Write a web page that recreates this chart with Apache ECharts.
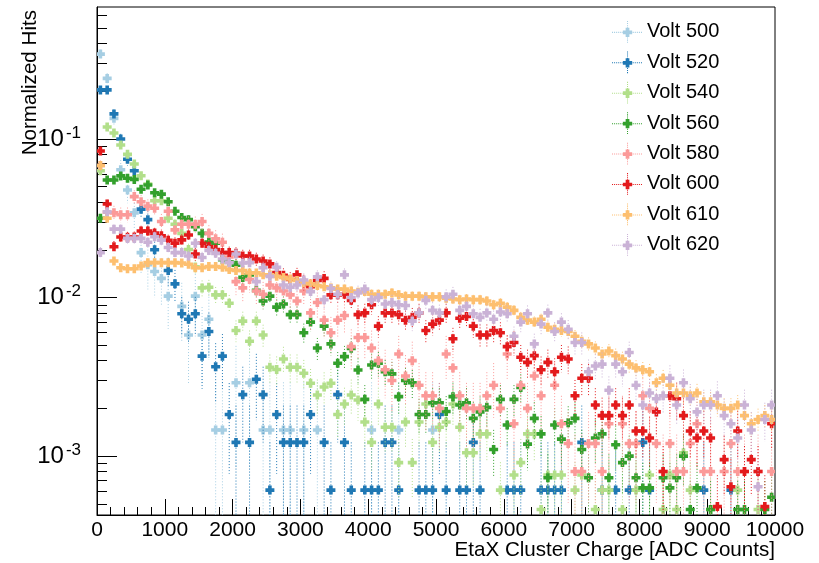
<!DOCTYPE html>
<html>
<head>
<meta charset="utf-8">
<script src="https://cdn.jsdelivr.net/npm/echarts@6/dist/echarts.min.js"></script>
<style>
    html, body { margin: 0; padding: 0; background: #fff; }
    #chart { width: 819px; height: 563px; }
</style>
</head>
<body>
<div id="chart"></div>
<script>
// 100 bins of 100 ADC counts, 0 - 10000
var binWidth = 100;
var nBins = 100;
var xTicks = [0, 1000, 2000, 3000, 4000, 5000, 6000, 7000, 8000, 9000, 10000];
var yMajor = [0.001, 0.01, 0.1];
var yMinor = [0.0005, 0.0006, 0.0007, 0.0008, 0.0009,
    0.002, 0.003, 0.004, 0.005, 0.006, 0.007, 0.008, 0.009,
    0.02, 0.03, 0.04, 0.05, 0.06, 0.07, 0.08, 0.09,
    0.2, 0.3, 0.4, 0.5, 0.6];

var names = ['Volt 500', 'Volt 520', 'Volt 540', 'Volt 560', 'Volt 580', 'Volt 600', 'Volt 610', 'Volt 620'];
var colors = ['#a6cee3', '#1f78b4', '#b2df8a', '#33a02c', '#fb9a99', '#e31a1c', '#fdbf6f', '#cab2d6'];
// weight of one entry per series (error = sqrt(value * unit))
var units = [1.46e-3, 6.1e-4, 1.52e-4, 1.2e-4, 4e-4, 1.6e-4, 5e-5, 1.3e-4];

var volt500 = [
    0.343, 0.241, 0.135, 0.064, 0.0477, 0.0342, 0.0192, 0.0161, 0.0146, 0.0132,
    0.0102, null, 0.0088, 0.0058, 0.0102, 0.0058, 0.0073, 0.00146, 0.00146, null,
    0.0029, null, 0.0029, null, 0.00146, 0.00146, null, 0.00146, 0.00146, null,
    0.00146, null, 0.00146, null, null, null, null, null, null, null,
    0.00146, null, null, null, 0.00146, null, null, null, null, 0.00146,
    null, null, null, null, null, null, null, null, null, null,
    null, null, null, null, null, null, null, null, null, null,
    null, null, null, null, null, null, null, null, null, null,
    null, null, null, null, null, null, null, null, null, null,
    null, null, null, null, null, null, null, null, null, null
];
var volt520 = [
    0.204, 0.204, 0.144, 0.0999, 0.0745, 0.063, 0.0361, 0.031, 0.02, null,
    0.0148, 0.0122, 0.0079, 0.0073, 0.0079, 0.00427, 0.0061, 0.00366, 0.00427, 0.00183,
    0.00122, 0.00244, 0.00122, 0.00305, 0.00244, 0.00061, 0.00183, 0.00122, 0.00122, 0.00122,
    0.00122, 0.00183, null, 0.00122, 0.00061, 0.00244, 0.00122, 0.00061, null, 0.00061,
    0.00061, 0.00061, 0.00122, 0.00122, 0.00061, null, null, 0.00061, 0.00061, 0.00061,
    0.00183, 0.00061, null, 0.00061, 0.00061, 0.00122, 0.00061, null, null, null,
    0.00061, 0.00061, 0.00061, null, null, 0.00061, 0.00061, 0.00061, 0.00061, null,
    null, 0.00122, null, null, 0.00061, null, 0.00061, null, 0.00061, null,
    0.00122, 0.00061, null, null, null, null, null, null, null, 0.00061,
    null, null, null, 0.00061, null, null, null, null, null, null
];
var volt540 = [
    0.063, 0.119, 0.109, 0.0916, 0.080, 0.0695, 0.0586, 0.052, 0.0408, 0.0408,
    0.0316, 0.029, 0.0254, 0.0201, 0.0156, 0.0115, 0.0116, 0.0104, 0.0104, 0.0092,
    0.0062, 0.0071, 0.0053, 0.0071, 0.0058, 0.00363, 0.00352, 0.0041, 0.00363, 0.00363,
    0.00333, 0.00288, 0.00243, 0.00273, 0.00288, 0.00183, 0.00213, 0.00243, 0.00226, 0.00164,
    0.00122, 0.00213, 0.00152, 0.00152, 0.00091, 0.00164, 0.00091, 0.00164, 0.00213, 0.00122,
    0.00152, 0.00164, 0.00213, 0.00152, 0.00105, 0.00105, 0.00138, 0.00138, null, 0.00061,
    null, 0.00076, 0.00091, 0.00138, 0.00138, 0.00046, 0.00076, 0.00076, 0.00076, null,
    0.00061, 0.00076, null, 0.00046, 0.00061, 0.00061, null, 0.00046, null, 0.00061,
    null, 0.00076, null, 0.00046, 0.00076, 0.00046, 0.00105, 0.00061, null, null,
    0.00046, null, null, null, 0.00061, null, null, 0.00046, null, null
];
var volt560 = [
    0.0316, 0.0551, 0.0551, 0.0585, 0.0565, 0.0556, 0.0482, 0.0513, 0.0458, 0.0449,
    0.0402, 0.035, 0.032, 0.031, 0.028, 0.0254, 0.0224, 0.022, 0.0173, 0.0168,
    0.016, 0.0134, 0.0139, 0.0111, 0.0095, 0.0102, 0.0087, 0.0091, 0.0078, 0.0078,
    0.006, 0.007, 0.0048, 0.0066, 0.0051, 0.00385, 0.00424, 0.00478, 0.00349, 0.00228,
    0.00375, 0.00385, 0.0034, 0.0033, 0.00237, 0.003, 0.0029, 0.00183, 0.00183, 0.00217,
    0.00217, 0.00191, 0.00237, 0.0021, 0.00217, 0.00173, 0.0019, 0.00203, 0.0011, 0.00228,
    0.00157, 0.00228, 0.00271, 0.00119, 0.00173, 0.00138, 0.00073, 0.00157, 0.00128, 0.00162,
    0.00173, 0.0011, 0.00073, 0.0013, 0.00138, 0.00073, 0.00118, 0.00091, 0.001, 0.00073,
    0.00063, 0.00063, null, 0.00073, 0.00063, 0.00073, 0.001, 0.00046, 0.00063, null,
    0.00046, null, null, null, 0.00046, 0.00046, null, null, 0.00046, 0.00055
];
var volt580 = [
    0.068, 0.0345, 0.0342, 0.0333, 0.0333, 0.0433, 0.0402, 0.0377, 0.0366, 0.0302,
    0.035, 0.0267, 0.029, 0.029, 0.029, 0.0302, 0.0254, 0.0235, 0.0223, 0.018,
    0.0126, 0.0115, 0.013, 0.011, 0.0105, 0.012, 0.0115, 0.011, 0.0104, 0.0095,
    0.011, 0.008, 0.0093, 0.0072, 0.006, 0.0072, 0.0077, 0.0049, 0.0056, 0.0056,
    0.0048, 0.004, 0.0035, 0.003, 0.0044, 0.0032, 0.004, 0.0028, 0.0024, 0.0024,
    0.002, 0.0044, 0.0036, 0.0024, 0.002, 0.002, 0.002, 0.0024, 0.0028, 0.002,
    0.0044, 0.0016, 0.0028, 0.002, 0.0032, 0.0024, null, 0.0028, 0.0016, 0.0012,
    0.0008, 0.0008, 0.0012, 0.0012, 0.0008, 0.0016, null, 0.0016, 0.0012, 0.0012,
    0.0024, 0.002, 0.0012, 0.0008, 0.0012, 0.0008, 0.0008, 0.0012, 0.0016, 0.0008,
    0.0008, null, 0.0008, 0.0012, 0.0008, 0.0008, null, 0.0008, null, 0.0008
];
var volt600 = [
    0.084, 0.0389, 0.0209, 0.0241, 0.024, 0.0241, 0.0263, 0.0263, 0.0255, 0.0245,
    0.023, 0.022, 0.0231, 0.0248, 0.0188, 0.022, 0.021, 0.0201, 0.0192, 0.0192,
    0.019, 0.0183, 0.0183, 0.0175, 0.017, 0.0163, 0.0144, 0.0138, 0.013, 0.0139,
    0.0125, 0.0117, 0.0128, 0.0132, 0.0104, 0.0104, 0.0105, 0.0096, 0.0078, 0.008,
    0.009, 0.0066, 0.008, 0.008, 0.0078, 0.0072, 0.0075, 0.008, 0.0062, 0.0068,
    0.0072, 0.008, 0.0055, 0.0074, 0.0076, 0.0066, 0.0058, 0.0058, 0.0062, 0.006,
    0.0049, 0.0052, 0.0042, 0.0039, 0.0043, 0.0035, 0.0039, 0.0034, 0.0042, 0.0041,
    0.0024, 0.0031, 0.0031, 0.0021, 0.0018, 0.0018, 0.0021, 0.0018, 0.0021, 0.00144,
    0.00144, 0.0013, 0.0019, 0.0008, 0.0024, 0.0023, 0.0018, 0.00144, 0.0013, 0.00144,
    0.0013, 0.00048, 0.00095, 0.00064, 0.00144, 0.0008, 0.00095, 0.0008, 0.00048, 0.0016
];
var volt610 = [
    0.068, 0.0316, 0.017, 0.0154, 0.0152, 0.0152, 0.0158, 0.0166, 0.0166, 0.0166,
    0.0166, 0.0166, 0.0165, 0.0162, 0.0154, 0.0154, 0.0157, 0.0157, 0.0155, 0.015,
    0.0148, 0.0148, 0.0143, 0.0143, 0.0139, 0.0139, 0.0136, 0.0134, 0.0131, 0.0128,
    0.0124, 0.0122, 0.0119, 0.0117, 0.0115, 0.0113, 0.0113, 0.011, 0.0108, 0.0109,
    0.0105, 0.0105, 0.0105, 0.0107, 0.0104, 0.0102, 0.0102, 0.0102, 0.0101, 0.0101,
    0.0101, 0.0099, 0.0098, 0.0097, 0.0098, 0.0097, 0.0097, 0.0095, 0.009, 0.0092,
    0.0087, 0.0083, 0.0075, 0.0072, 0.007, 0.0073, 0.0065, 0.0063, 0.0062, 0.0061,
    0.0057, 0.0053, 0.0051, 0.0048, 0.0044, 0.0046, 0.0043, 0.0041, 0.0038, 0.0036,
    0.0035, 0.0034, 0.0029, 0.0031, 0.0028, 0.0025, 0.0025, 0.0024, 0.0025, 0.0022,
    0.0022, 0.0021, 0.002, 0.002, 0.0021, 0.0018, 0.0016, 0.0017, 0.0018, 0.0017
];
var volt620 = [
    0.0192, 0.0347, 0.027, 0.027, 0.0236, 0.0236, 0.0236, 0.0223, 0.0242, 0.023,
    0.0207, 0.0192, 0.0192, 0.0183, 0.022, 0.0179, 0.0198, 0.019, 0.0175, 0.0166,
    0.0188, 0.0165, 0.0166, 0.0126, 0.0154, 0.0136, 0.0155, 0.012, 0.0116, 0.012,
    0.0129, 0.0109, 0.0135, 0.0097, 0.0114, 0.0105, 0.0139, 0.01, 0.0107, 0.0113,
    0.0097, 0.01, 0.0091, 0.0093, 0.009, 0.0089, 0.0071, 0.008, 0.0096, 0.0083,
    0.008, 0.0101, 0.0105, 0.0083, 0.0088, 0.0079, 0.0075, 0.008, 0.0073, 0.0081,
    0.0079, 0.0057, 0.007, 0.0079, 0.0051, 0.0068, 0.008, 0.0061, 0.007, 0.0063,
    0.0052, 0.0052, 0.0034, 0.0037, 0.0038, 0.0026, 0.0038, 0.0034, 0.0045, 0.0028,
    0.0021, 0.0025, 0.0023, 0.0024, 0.0031, 0.0021, 0.0029, 0.0023, 0.0019, 0.0021,
    0.0021, 0.0024, 0.0018, 0.0016, 0.0013, 0.0021, 0.00146, 0.00064, 0.0017, 0.0021
];
var allValues = [volt500, volt520, volt540, volt560, volt580, volt600, volt610, volt620];

var Y_MIN = 4.25e-4;
var Y_MAX = 0.68;
var FONT = '"Liberation Sans", Arial, Helvetica, sans-serif';

// marker: ROOT full cross (style 34)
function crossPoints(cx, cy, s, w) {
    return [[cx - w, cy - s], [cx + w, cy - s], [cx + w, cy - w], [cx + s, cy - w], [cx + s, cy + w],
        [cx + w, cy + w], [cx + w, cy + s], [cx - w, cy + s], [cx - w, cy + w], [cx - s, cy + w],
        [cx - s, cy - w], [cx - w, cy - w]];
}

function makeRender(color, unit) {
    return function (params, api) {
        var x = api.value(0), v = api.value(1);
        var err = Math.sqrt(v * unit);
        var lo = Math.max(v - err, Y_MIN), hi = Math.min(v + err, Y_MAX);
        var c = api.coord([x, v]);
        var pLo = api.coord([x, lo]), pHi = api.coord([x, hi]);
        var xl = api.coord([x - binWidth / 2, v])[0];
        var xr = api.coord([x + binWidth / 2, v])[0];
        var dot = { stroke: color, lineWidth: 1, lineDash: [1, 2] };
        return {
            type: 'group',
            children: [
                { type: 'line', shape: { x1: c[0], y1: pHi[1], x2: c[0], y2: pLo[1] }, style: dot },
                { type: 'line', shape: { x1: xl, y1: c[1], x2: xr, y2: c[1] }, style: dot },
                { type: 'polygon', shape: { points: crossPoints(c[0], c[1], 4.5, 1.8) }, style: { fill: color } }
            ]
        };
    };
}

// legend icon: dotted cross lines with the marker in the middle
var iconPath = 'path://';
for (var ix = 0; ix <= 28; ix += 2) iconPath += 'M' + ix + ' 10.5h1v1h-1Z';
for (var iy = 0; iy <= 20; iy += 2) iconPath += 'M14.5 ' + iy + 'h1v1h-1Z';
iconPath += 'M13.2 6.5h3.6v2.7h2.7v3.6h-2.7v2.7h-3.6v-2.7h-2.7v-3.6h2.7Z';

var series = [];
for (var k = 0; k < names.length; k++) {
    var pts = [];
    for (var i = 0; i < nBins; i++) {
        if (allValues[k][i] != null) pts.push([i * binWidth + binWidth / 2, allValues[k][i]]);
    }
    series.push({
        name: names[k],
        type: 'custom',
        clip: true,
        itemStyle: { color: colors[k] },
        encode: { x: 0, y: 1 },
        renderItem: makeRender(colors[k], units[k]),
        data: pts
    });
}

var chart = echarts.init(document.getElementById('chart'), null, { renderer: 'canvas' });
var option = {
    backgroundColor: '#fff',
    animation: false,
    textStyle: { fontFamily: FONT },
    grid: {
        left: 97, right: 44, top: 7, bottom: 48,
        containLabel: false, outerBoundsMode: 'none',
        show: true, borderColor: '#000', borderWidth: 1, backgroundColor: 'transparent'
    },
    legend: {
        orient: 'vertical',
        left: 607, top: 16,
        itemWidth: 30, itemHeight: 22, itemGap: 8.7,
        icon: iconPath,
        data: names,
        textStyle: { fontSize: 20, color: '#000', fontFamily: FONT }
    },
    xAxis: {
        type: 'value',
        min: 0, max: 10000, interval: 1000,
        name: 'EtaX Cluster Charge [ADC Counts]',
        nameLocation: 'end', nameGap: 0, nameMoveOverlap: false,
        nameTextStyle: { fontSize: 20.6, color: '#000', fontFamily: FONT, align: 'right', verticalAlign: 'top', padding: [25, 0, 0, 0] },
        axisLine: { show: true, lineStyle: { color: '#000', width: 1 } },
        axisTick: { show: true, inside: true, length: 16, lineStyle: { color: '#000' } },
        minorTick: { show: true, splitNumber: 5, length: 8, lineStyle: { color: '#000' } },
        axisLabel: {
            fontSize: 21, color: '#000', fontFamily: FONT, margin: 5, customValues: xTicks,
            formatter: function (v) { return String(v); }
        },
        splitLine: { show: false }
    },
    yAxis: [{
        type: 'log',
        position: 'left',
        min: Y_MIN, max: Y_MAX,
        name: 'Normalized Hits',
        nameLocation: 'end', nameRotate: 90, nameGap: -3, nameMoveOverlap: false,
        nameTextStyle: { fontSize: 20.6, color: '#000', fontFamily: FONT, align: 'right', verticalAlign: 'bottom', padding: [0, 0, 56, 0] },
        axisLine: { show: true, lineStyle: { color: '#000', width: 1 } },
        axisTick: { show: true, inside: true, length: 20, customValues: yMajor, lineStyle: { color: '#000' } },
        axisLabel: {
            customValues: yMajor,
            margin: 16,
            color: '#000',
            fontFamily: FONT,
            formatter: function (v) {
                return '{b|10}{s|' + Math.round(Math.log10(v)) + '}';
            },
            rich: {
                b: { fontSize: 24, fontFamily: FONT, color: '#000' },
                s: { fontSize: 17, fontFamily: FONT, color: '#000', padding: [0, 0, 12, 2] }
            }
        },
        splitLine: { show: false }
    }, {
        type: 'log',
        position: 'left',
        offset: 0,
        min: Y_MIN, max: Y_MAX,
        axisLine: { show: false },
        axisTick: { show: true, inside: true, length: 10, customValues: yMinor, lineStyle: { color: '#000' } },
        axisLabel: { show: false },
        splitLine: { show: false }
    }],
    series: series
};
chart.setOption(option);
</script>
</body>
</html>
